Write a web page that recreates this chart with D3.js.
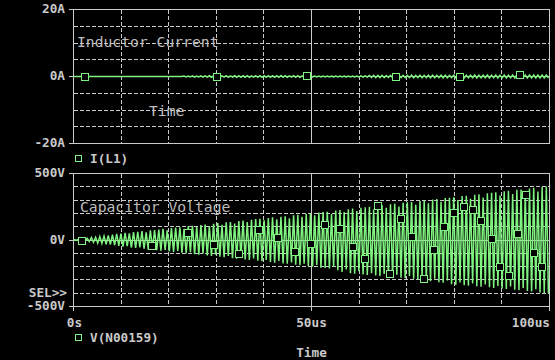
<!DOCTYPE html>
<html>
<head>
<meta charset="utf-8">
<script src="https://cdn.jsdelivr.net/npm/d3@7"></script>
<style>
  body { margin: 0; background: #000; }
  text { font-family: "DejaVu Sans Mono", monospace; }
</style>
</head>
<body>
<div id="scope"></div>
<script>
// time axis (us)
var timeTicks = [0, 50, 100];
var timeLabels = ["0s", "50us", "100us"];
var timeGrid = [10, 20, 30, 40, 50, 60, 70, 80, 90];

// top panel: I(L1)
var currentTicks = [20, 0, -20];
var currentLabels = ["20A", "0A", "-20A"];
var currentGrid = [-15, -10, -5, 0, 5, 10, 15];

// bottom panel: V(N00159)
var voltageTicks = [500, 0, -500];
var voltageLabels = ["500V", "0V", "-500V"];
var voltageGrid = [-400, -300, -200, -100, 0, 100, 200, 300, 400];

// one value per oscillation cycle
var vPeaks = [2, 6, 10, 13, 19, 21, 27, 29, 35, 41,
  46, 48, 54, 50, 60, 62, 67, 58, 73, 75,
  79, 84, 72, 90, 93, 95, 84, 104, 106, 100,
  112, 117, 104, 122, 127, 114, 133, 135, 124, 142,
  146, 135, 152, 157, 160, 148, 166, 170, 155, 175,
  178, 164, 186, 190, 175, 196, 199, 186, 206, 210,
  213, 196, 221, 225, 210, 231, 236, 218, 243, 246,
  249, 230, 257, 261, 243, 268, 272, 252, 279, 283,
  286, 265, 293, 297, 276, 304, 308, 288, 315, 318,
  322, 300, 330, 333, 310, 341, 344, 320, 351, 356,
  358, 335, 366, 370, 345, 377, 380, 356, 388, 392, 365, 399, 403];
var vTroughs = [-1, -4, -9, -12, -17, -23, -25, -32, -34, -39,
  -45, -50, -47, -57, -59, -55, -66, -70, -64, -76,
  -80, -74, -86, -90, -82, -96, -100, -92, -107, -110,
  -101, -116, -120, -110, -126, -130, -120, -136, -140, -128,
  -146, -150, -139, -156, -160, -150, -166, -170, -158, -176,
  -179, -168, -185, -190, -178, -196, -200, -188, -208, -211,
  -215, -200, -228, -240, -222, -250, -254, -235, -260, -263,
  -250, -266, -270, -255, -275, -280, -262, -284, -287, -270,
  -292, -298, -280, -305, -310, -292, -318, -322, -305, -332,
  -336, -320, -340, -343, -327, -348, -352, -334, -356, -360,
  -345, -364, -368, -350, -374, -378, -360, -384, -388, -370, -394, -398, -402];
var iRipple = [0, 0, 0, 0, 0, 0, 0, 0, 0, 0,
  0, 0, 0, 0, 0, 0, 0, 0, 0, 0,
  0, 0, 0, 0, 0, 0, 0.12, 0.15, 0.18, 0.15,
  0.2, 0.18, 0.22, 0.2, 0.22, 0.2, 0.24, 0.2, 0.22, 0.24,
  0.22, 0.25, 0.2, 0.24, 0.25, 0.22, 0.26, 0.24, 0.25, 0.27,
  0.22, 0.2, 0.25, 0.24, 0.2, 0.22, 0.14, 0.12, 0.15, 0.12,
  0.12, 0.1, 0.14, 0.12, 0.1, 0.14, 0.12, 0.15, 0.18, 0.2,
  0.3, 0.35, 0.32, 0.36, 0.3, 0.35, 0.38, 0.32, 0.36, 0.35,
  0.38, 0.35, 0.4, 0.36, 0.38, 0.4, 0.35, 0.38, 0.4, 0.36,
  0.4, 0.38, 0.42, 0.4, 0.38, 0.42, 0.4, 0.38, 0.42, 0.4,
  0.42, 0.4, 0.44, 0.4, 0.42, 0.45, 0.4, 0.44, 0.42, 0.45, 0.42, 0.44, 0.45];

// trace markers
var vMarkT = [1.7, 16.5, 24.0, 29.6, 34.7, 38.9, 43.0, 46.5, 49.8, 52.8, 55.9, 58.7, 61.3, 63.9, 66.4, 68.9,
  71.2, 73.6, 75.7, 77.8, 79.9, 82.0, 83.9, 85.7, 88.0, 89.7, 91.5, 93.3, 95.0, 96.7, 98.5];
var vMarkV = [-8, -45, 55, -37, -107, 73, 12, -92, -32, 112, 82, -55, -145, 255, -255, 157,
  20, -292, -75, 95, 200, 245, 225, 142, 5, -205, -270, 45, 337, -100, -205];
var iMarkT = [2.4, 30.2, 49.1, 67.8, 81.1, 93.9];
var iMarkV = [0, -0.2, 0.2, 0, -0.2, 0.3];

var axisColor = "#cacaca";
var traceColor = "#7ff27f";

var svg = d3.select("#scope").append("svg")
  .attr("width", 555)
  .attr("height", 360)
  .style("background", "#000");

var x = d3.scaleLinear().domain([0, 100]).range([73.5, 549.5]);
var yI = d3.scaleLinear().domain([-20, 20]).range([143.5, 9.5]);
var yV = d3.scaleLinear().domain([-500, 500]).range([306.5, 173.5]);

function panel(y, grid, ticks, labels) {
  var g = svg.append("g").attr("shape-rendering", "crispEdges");
  var y0 = y.range()[1], y1 = y.range()[0];
  // vertical grid
  timeGrid.forEach(function(t) {
    g.append("line")
      .attr("x1", x(t)).attr("x2", x(t))
      .attr("y1", y0).attr("y2", y1)
      .attr("stroke", axisColor)
      .attr("stroke-dasharray", t == 50 ? null : "4,2");
  });
  // horizontal grid
  grid.forEach(function(v) {
    g.append("line")
      .attr("x1", x(0)).attr("x2", x(100))
      .attr("y1", y(v)).attr("y2", y(v))
      .attr("stroke", axisColor)
      .attr("stroke-dasharray", v == 0 ? null : "4,2");
  });
  g.append("rect")
    .attr("x", x(0)).attr("y", y0)
    .attr("width", x(100) - x(0)).attr("height", y1 - y0)
    .attr("fill", "none").attr("stroke", axisColor);
  ticks.forEach(function(v, i) {
    g.append("line")
      .attr("x1", x(0) - 5).attr("x2", x(0))
      .attr("y1", y(v)).attr("y2", y(v))
      .attr("stroke", axisColor);
    svg.append("text")
      .attr("x", 65).attr("y", y(v))
      .attr("text-anchor", "end")
      .attr("dominant-baseline", "middle")
      .attr("font-size", "12.7px").attr("font-weight", "bold")
      .attr("fill", axisColor)
      .text(labels[i]);
  });
}

panel(yI, currentGrid, currentTicks, currentLabels);
panel(yV, voltageGrid, voltageTicks, voltageLabels);

// bottom time ticks
timeTicks.forEach(function(t, i) {
  svg.append("line")
    .attr("shape-rendering", "crispEdges")
    .attr("x1", x(t)).attr("x2", x(t))
    .attr("y1", yV(-500)).attr("y2", yV(-500) + 4)
    .attr("stroke", axisColor);
  svg.append("text")
    .attr("x", i == 2 ? x(t) + 0.5 : x(t) + (i == 0 ? 1 : 0))
    .attr("y", 323)
    .attr("text-anchor", i == 2 ? "end" : "middle")
    .attr("dominant-baseline", "middle")
    .attr("font-size", "12.7px").attr("font-weight", "bold")
    .attr("fill", axisColor)
    .text(timeLabels[i]);
});

svg.append("text")
  .attr("x", x(50)).attr("y", 353)
  .attr("text-anchor", "middle").attr("dominant-baseline", "middle")
  .attr("font-size", "12.7px").attr("font-weight", "bold")
  .attr("fill", axisColor).text("Time");

svg.append("text")
  .attr("x", 67).attr("y", 293)
  .attr("text-anchor", "end").attr("dominant-baseline", "middle")
  .attr("font-size", "12.7px").attr("font-weight", "bold")
  .attr("fill", axisColor).text("SEL>>");

// annotations inside the plots
function note(px, py, str) {
  svg.append("text")
    .attr("x", px).attr("y", py)
    .attr("font-size", "14.7px")
    .attr("fill", "#bdbdbd")
    .text(str);
}
note(77, 47, "Inductor Current");
note(149, 116, "Time");
note(80, 212, "Capacitor Voltage");

// traces
var N = vPeaks.length;
var period = 100 / N;
var vData = [{t: 0, v: 0}], iData = [{t: 0, v: 0}];
for (var i = 0; i < N; i++) {
  vData.push({t: (i + 0.25) * period, v: vPeaks[i]});
  vData.push({t: (i + 0.75) * period, v: vTroughs[i]});
  iData.push({t: (i + 0.25) * period, v: iRipple[i]});
  iData.push({t: (i + 0.75) * period, v: -iRipple[i]});
}

svg.append("path")
  .datum(iData)
  .attr("fill", "none").attr("stroke", traceColor).attr("stroke-width", 1.5)
  .attr("d", d3.line().x(function(d) { return x(d.t); }).y(function(d) { return yI(d.v); }));

svg.append("path")
  .datum(vData)
  .attr("fill", "none").attr("stroke", traceColor).attr("stroke-width", 1.5)
  .attr("d", d3.line().x(function(d) { return x(d.t); }).y(function(d) { return yV(d.v); }));

function markers(ts, vs, y) {
  ts.forEach(function(t, k) {
    svg.append("rect")
      .attr("x", Math.round(x(t)) - 3.5).attr("y", Math.round(y(vs[k])) - 3.5)
      .attr("width", 7).attr("height", 7)
      .attr("fill", "#000").attr("stroke", traceColor);
  });
}
markers(iMarkT, iMarkV, yI);
markers(vMarkT, vMarkV, yV);

// legends
function legend(py, str) {
  svg.append("rect")
    .attr("x", 75.5).attr("y", py - 3.5)
    .attr("width", 6).attr("height", 6)
    .attr("fill", "#000").attr("stroke", traceColor);
  svg.append("text")
    .attr("x", 90).attr("y", py)
    .attr("dominant-baseline", "middle")
    .attr("font-size", "12.7px").attr("font-weight", "bold")
    .attr("fill", axisColor).text(str);
}
legend(159, "I(L1)");
legend(338, "V(N00159)");
</script>
</body>
</html>
